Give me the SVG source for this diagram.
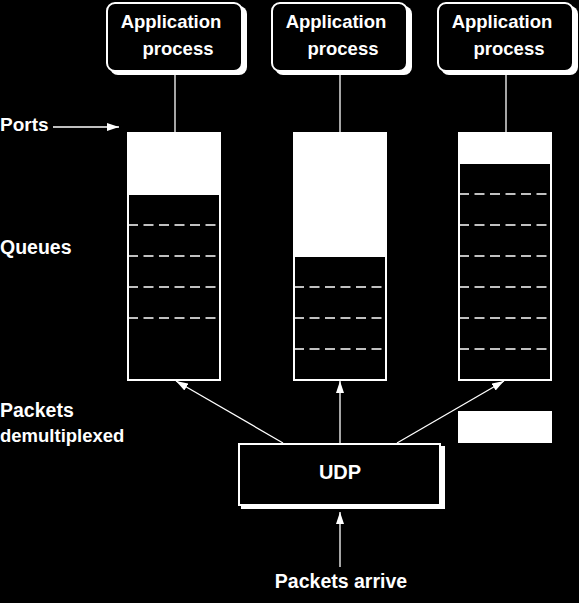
<svg xmlns="http://www.w3.org/2000/svg" width="579" height="603" viewBox="0 0 579 603">
<style>
text{font-family:"Liberation Sans",Arial,sans-serif;font-weight:bold;font-size:18.5px;fill:#fff}
.c{text-anchor:middle}
.ln{stroke:#fff;stroke-width:1.3;fill:none}
.box{fill:#000;stroke:#fff;stroke-width:2}
.sh{fill:#fff}
.q{fill:#000;stroke:#fff;stroke-width:2}
.dash{stroke:#fff;stroke-width:1.5;stroke-dasharray:10 5.5}
</style>
<defs>
<marker id="ah" viewBox="0 0 12 8" refX="12" refY="4" markerWidth="12" markerHeight="8" markerUnits="userSpaceOnUse" orient="auto">
<path d="M0,0 L12,4 L0,8 z" fill="#fff"/>
</marker>
</defs>
<rect width="579" height="603" fill="#000"/>
<g id="app1">
<rect class="sh" x="110" y="6" width="137" height="69" rx="8"/>
<rect class="box" x="107" y="3" width="135" height="68" rx="8"/>
<text x="171" y="28" class="c">Application</text>
<text x="178" y="55" class="c">process</text>
</g>
<g id="app2">
<rect class="sh" x="275" y="6" width="137" height="69" rx="8"/>
<rect class="box" x="272" y="3" width="135" height="68" rx="8"/>
<text x="336" y="28" class="c">Application</text>
<text x="343" y="55" class="c">process</text>
</g>
<g id="app3">
<rect class="sh" x="441" y="6" width="137" height="69" rx="8"/>
<rect class="box" x="438" y="3" width="135" height="68" rx="8"/>
<text x="502" y="28" class="c">Application</text>
<text x="509" y="55" class="c">process</text>
</g>
<g id="queue1">
<rect class="q" x="128" y="133" width="92" height="247"/>
<rect fill="#fff" x="127" y="132" width="94" height="63"/>
<line class="dash" x1="128" y1="225" x2="216" y2="225"/>
<line class="dash" x1="128" y1="256" x2="216" y2="256"/>
<line class="dash" x1="128" y1="287" x2="216" y2="287"/>
<line class="dash" x1="128" y1="318" x2="216" y2="318"/>
</g>
<g id="queue2">
<rect class="q" x="294" y="133" width="92" height="247"/>
<rect fill="#fff" x="293" y="132" width="94" height="125"/>
<line class="dash" x1="294" y1="287" x2="382" y2="287"/>
<line class="dash" x1="294" y1="318" x2="382" y2="318"/>
<line class="dash" x1="294" y1="349" x2="382" y2="349"/>
</g>
<g id="queue3">
<rect class="q" x="459" y="133" width="92" height="247"/>
<rect fill="#fff" x="458" y="132" width="94" height="32"/>
<line class="dash" x1="459" y1="194" x2="547" y2="194"/>
<line class="dash" x1="459" y1="225" x2="547" y2="225"/>
<line class="dash" x1="459" y1="256" x2="547" y2="256"/>
<line class="dash" x1="459" y1="287" x2="547" y2="287"/>
<line class="dash" x1="459" y1="318" x2="547" y2="318"/>
<line class="dash" x1="459" y1="349" x2="547" y2="349"/>
</g>
<g id="block">
<rect fill="#fff" x="458" y="411" width="94" height="32"/>
</g>
<g id="udp">
<rect class="sh" x="241" y="446" width="204" height="63"/>
<rect class="box" x="239" y="444" width="201" height="61"/>
<text x="340" y="479" class="c" style="font-size:20px">UDP</text>
</g>
<g id="labels">
<text x="0" y="131" style="font-size:19px">Ports</text>
<text x="0" y="254" style="font-size:19.5px">Queues</text>
<text x="0" y="417" style="font-size:19.5px">Packets</text>
<text x="0" y="442">demultiplexed</text>
<text x="341" y="588" class="c" style="font-size:19.5px">Packets arrive</text>
</g>
<g id="connectors">
<line class="ln" x1="175" y1="72" x2="175" y2="132"/>
<line class="ln" x1="340" y1="72" x2="340" y2="132"/>
<line class="ln" x1="506" y1="72" x2="506" y2="132"/>
<line class="ln" x1="53" y1="127" x2="119" y2="127" marker-end="url(#ah)"/>
<line class="ln" x1="283" y1="443" x2="176" y2="381" marker-end="url(#ah)"/>
<line class="ln" x1="340" y1="443" x2="340" y2="381" marker-end="url(#ah)"/>
<line class="ln" x1="397" y1="443" x2="504" y2="381" marker-end="url(#ah)"/>
<line class="ln" x1="340" y1="567" x2="340" y2="512" marker-end="url(#ah)"/>
</g>
</svg>
